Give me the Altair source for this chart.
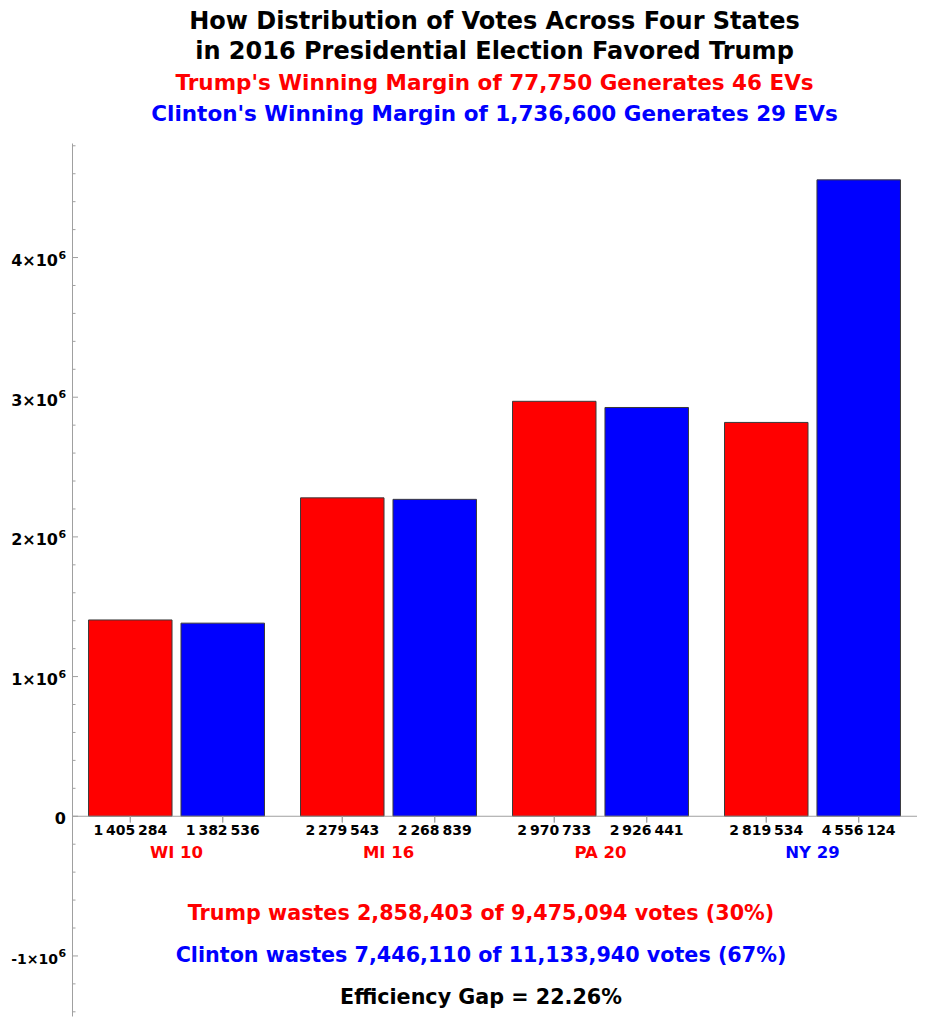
import altair as alt
import pandas as pd

# ---------------- data ----------------
states = ["WI", "MI", "PA", "NY"]
electoral_votes = [10, 16, 20, 29]
state_winners = ["Trump", "Trump", "Trump", "Clinton"]
trump_votes = [1405284, 2279543, 2970733, 2819534]
clinton_votes = [1382536, 2268839, 2926441, 4556124]
candidates = ["Trump", "Clinton"]
candidate_colors = ["#FF0000", "#0000FF"]

title_lines = [
    "How Distribution of Votes Across Four States",
    "in 2016 Presidential Election Favored Trump",
    "Trump's Winning Margin of 77,750 Generates 46 EVs",
    "Clinton's Winning Margin of 1,736,600 Generates 29 EVs",
]
footer_lines = [
    "Trump wastes 2,858,403 of 9,475,094 votes (30%)",
    "Clinton wastes 7,446,110 of 11,133,940 votes (67%)",
    "Efficiency Gap = 22.26%",
]

major_ticks = [-1000000, 0, 1000000, 2000000, 3000000, 4000000]
minor_ticks = [v for v in range(-1400000, 4800001, 200000) if v % 1000000 != 0]
y_domain = [-1430000, 4820000]

# ---------------- tables ----------------
rows = []
for s, t, c in zip(states, trump_votes, clinton_votes):
    for cand, v in zip(candidates, [t, c]):
        rows.append({"state": s, "cand": cand, "votes": v,
                     "label": f"{v:,}".replace(",", "\u2009")})
bars_df = pd.DataFrame(rows)

state_df = pd.DataFrame({
    "state": states,
    "label": [f"{s} {ev}" for s, ev in zip(states, electoral_votes)],
    "winner": state_winners,
})
major_df = pd.DataFrame({"v": major_ticks})
minor_df = pd.DataFrame({"v": minor_ticks})
pos_ticks = [v for v in major_ticks if v > 0]
neg_ticks = [v for v in major_ticks if v < 0]
pos_df = pd.DataFrame({"v": pos_ticks,
                       "base": [f"{v // 1000000}\u00d710" for v in pos_ticks],
                       "exp": ["6"] * len(pos_ticks)})
neg_df = pd.DataFrame({"v": neg_ticks,
                       "base": [f"{v // 1000000}\u00d710" for v in neg_ticks],
                       "exp": ["6"] * len(neg_ticks)})
zero_df = pd.DataFrame({"v": [0], "t": ["0"]})

FONT = "DejaVu Sans"
RED, BLUE = candidate_colors
AXIS_GRAY = "#a0a0a0"

yscale = alt.Scale(domain=y_domain, nice=False, zero=False)
xscale = alt.Scale(paddingInner=0.17, paddingOuter=0.078)
xoff_scale = alt.Scale(paddingInner=0.097, paddingOuter=0)
color_scale = alt.Scale(domain=candidates, range=candidate_colors)

X = alt.X("state:N", sort=states, scale=xscale, axis=None)
XO = alt.XOffset("cand:N", sort=candidates, scale=xoff_scale)

bars = alt.Chart(bars_df).mark_bar(stroke="#3a3a3a", strokeWidth=1).encode(
    x=X,
    xOffset=XO,
    y=alt.Y("votes:Q", scale=yscale, title=None,
            axis=alt.Axis(values=major_ticks, tickSize=0, grid=False,
                          domainColor=AXIS_GRAY, domainWidth=1, labels=False)),
    color=alt.Color("cand:N", scale=color_scale, legend=None),
)

zero_line = alt.Chart(zero_df).mark_rule(color=AXIS_GRAY, strokeWidth=1).encode(
    y=alt.Y("v:Q", scale=yscale)
)

edge_left = alt.Chart(bars_df).mark_rule(color=AXIS_GRAY, strokeWidth=1).encode(
    x=alt.X("state:N", sort=states, scale=xscale, axis=None, bandPosition=0),
    xOffset=XO,
    y=alt.datum(0, scale=yscale),
    y2=alt.datum(-45000),
)
edge_right = alt.Chart(bars_df).mark_rule(color=AXIS_GRAY, strokeWidth=1).encode(
    x=alt.X("state:N", sort=states, scale=xscale, axis=None, bandPosition=1),
    xOffset=XO,
    y=alt.datum(0, scale=yscale),
    y2=alt.datum(-45000),
)

major_tick_marks = alt.Chart(major_df).mark_rule(color=AXIS_GRAY, strokeWidth=1).encode(
    y=alt.Y("v:Q", scale=yscale), x=alt.value(0), x2=alt.value(6)
)
minor_tick_marks = alt.Chart(minor_df).mark_rule(color=AXIS_GRAY, strokeWidth=1).encode(
    y=alt.Y("v:Q", scale=yscale), x=alt.value(0), x2=alt.value(3.5)
)


def sci_labels(df, base_size):
    base = alt.Chart(df).mark_text(
        font=FONT, fontSize=base_size, fontWeight="bold", color="black",
        align="right", baseline="alphabetic", dy=8.5
    ).encode(y=alt.Y("v:Q", scale=yscale), x=alt.value(-14), text="base:N")
    exp = alt.Chart(df).mark_text(
        font=FONT, fontSize=11, fontWeight="bold", color="black",
        align="left", baseline="alphabetic", dy=1
    ).encode(y=alt.Y("v:Q", scale=yscale), x=alt.value(-13.5), text="exp:N")
    return [base, exp]


tick_zero = alt.Chart(zero_df).mark_text(
    font=FONT, fontSize=16, fontWeight="bold", color="black",
    align="right", baseline="alphabetic", dy=7.5
).encode(y=alt.Y("v:Q", scale=yscale), x=alt.value(-6), text="t:N")

value_labels = alt.Chart(bars_df).mark_text(
    font=FONT, fontSize=14, fontWeight="bold", color="black",
    baseline="alphabetic", dy=19
).encode(
    x=X, xOffset=XO, y=alt.datum(0, scale=yscale), text="label:N"
)

state_labels = alt.Chart(state_df).mark_text(
    font=FONT, fontSize=16.5, fontWeight="bold",
    baseline="alphabetic", dy=42
).encode(
    x=X, y=alt.datum(0, scale=yscale), text="label:N",
    color=alt.Color("winner:N", scale=color_scale, legend=None),
)

layers = [bars, zero_line, edge_left, edge_right, major_tick_marks,
          minor_tick_marks] + sci_labels(pos_df, 16) + sci_labels(neg_df, 14) + [
          tick_zero, value_labels, state_labels]

title_colors = ["black", "black", RED, BLUE]
title_sizes = [24, 24, 21.5, 21.5]
title_y = [-114, -84, -53.5, -22.5]
for txt, col, fs, yy in zip(title_lines, title_colors, title_sizes, title_y):
    layers.append(
        alt.Chart(pd.DataFrame({"t": [txt]})).mark_text(
            font=FONT, fontSize=fs, fontWeight="bold", color=col,
            align="center", baseline="alphabetic", x=422.5, y=yy
        ).encode(text="t:N")
    )

footer_colors = [RED, BLUE, "black"]
footer_y = [777, 819, 861]
for txt, col, yy in zip(footer_lines, footer_colors, footer_y):
    layers.append(
        alt.Chart(pd.DataFrame({"t": [txt]})).mark_text(
            font=FONT, fontSize=20.7, fontWeight="bold", color=col,
            align="center", baseline="alphabetic", x=409, y=yy
        ).encode(text="t:N")
    )

chart = alt.layer(*layers).properties(
    width=845, height=873,
    background="white",
    autosize=alt.AutoSizeParams(type="none"),
    padding={"left": 64, "top": 135, "right": 10, "bottom": 5},
).configure_view(stroke=None)

chart.save("out.html", embed_options={"renderer": "svg", "actions": False})
